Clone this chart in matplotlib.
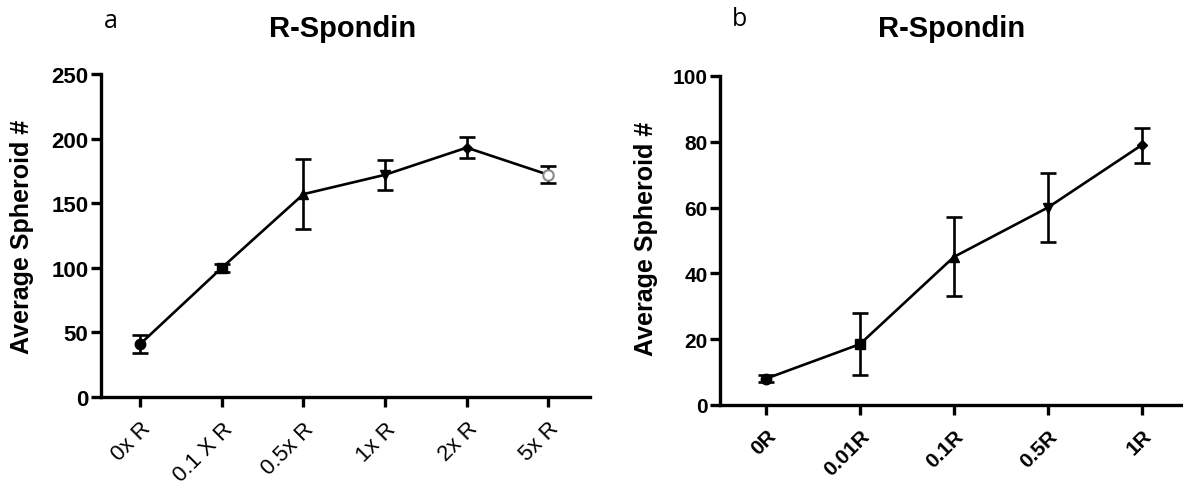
import matplotlib
matplotlib.use("Agg")
import matplotlib.pyplot as plt

# Panel a data
cats_a = ["0x R", "0.1 X R", "0.5x R", "1x R", "2x R", "5x R"]
mean_a = [41, 100, 157, 172, 193, 172]
err_a = [7, 3, 27, 11.5, 8, 6.5]
markers_a = ["o", "s", "^", "v", "D", "o"]

# Panel b data
cats_b = ["0R", "0.01R", "0.1R", "0.5R", "1R"]
mean_b = [8, 18.5, 45, 60, 79]
err_b = [1, 9.5, 12, 10.5, 5.3]
markers_b = ["o", "s", "^", "v", "D"]

title = "R-Spondin"
ylabel = "Average Spheroid #"

W, H = 1183, 485
fig = plt.figure(figsize=(W / 100, H / 100), dpi=100)
FONT = "Liberation Sans"


def px_axes(l, r, top, bottom):
    return fig.add_axes([l / W, 1 - bottom / H, (r - l) / W, (bottom - top) / H])


def style(ax, ylim, yticks, cats, ytick_fs, xtick_fs, xtick_weight, xlim):
    for s in ["top", "right"]:
        ax.spines[s].set_visible(False)
    for s in ["left", "bottom"]:
        ax.spines[s].set_linewidth(2.4)
    ax.set_ylim(*ylim)
    ax.set_xlim(*xlim)
    ax.set_yticks(yticks)
    ax.set_xticks(range(len(cats)))
    ax.set_xticklabels(cats, rotation=45, ha="right", rotation_mode="anchor")
    ax.tick_params(axis="both", width=2.4, length=7, direction="out")
    for lab in ax.get_yticklabels():
        lab.set_fontfamily(FONT)
        lab.set_fontweight("bold")
        lab.set_fontsize(ytick_fs)
    for lab in ax.get_xticklabels():
        lab.set_fontfamily(FONT)
        lab.set_fontweight(xtick_weight)
        lab.set_fontsize(xtick_fs)
    ax.tick_params(axis="x", pad=8)
    ax.tick_params(axis="y", pad=2)


def draw(ax, means, errs, markers, open_last=False):
    xs = list(range(len(means)))
    ax.plot(xs, means, color="black", lw=1.9, zorder=2)
    ax.errorbar(xs, means, yerr=errs, fmt="none", ecolor="black",
                elinewidth=1.9, capsize=5.5, capthick=1.9, zorder=3)
    for i, (x, y, m) in enumerate(zip(xs, means, markers)):
        if open_last and i == len(xs) - 1:
            ax.plot(x, y, marker=m, ms=7.5, mfc="white", mec="#888888", mew=1.5, zorder=4)
        else:
            ax.plot(x, y, marker=m, ms=7.5 if m != "D" else 5.5, color="black", zorder=4)


# Panel a
ax1 = px_axes(101, 590, 75, 398)
draw(ax1, mean_a, err_a, markers_a, open_last=True)
style(ax1, (0, 250), [0, 50, 100, 150, 200, 250], cats_a, 16, 16, "normal", (-0.48, 5.51))
ax1.text(22 / W, 1 - 237 / H, ylabel, transform=fig.transFigure, rotation=90,
         ha="center", va="center", fontsize=18, fontweight="bold", family=FONT)

# Panel b
ax2 = px_axes(720, 1183, 77, 406)
draw(ax2, mean_b, err_b, markers_b)
style(ax2, (0, 100), [0, 20, 40, 60, 80, 100], cats_b, 15, 15, "bold", (-0.49, 4.44))
ax2.text(646 / W, 1 - 239 / H, ylabel, transform=fig.transFigure, rotation=90,
         ha="center", va="center", fontsize=18, fontweight="bold", family=FONT)

# Titles
fig.text(343 / W, 1 - 29 / H, title, ha="center", va="center", fontsize=21,
         fontweight="bold", family=FONT)
fig.text(952 / W, 1 - 29 / H, title, ha="center", va="center", fontsize=21,
         fontweight="bold", family=FONT)

# Panel letters
fig.text(111 / W, 1 - 21 / H, "a", ha="center", va="center", fontsize=18, family="Open Sans")
fig.text(739 / W, 1 - 19 / H, "b", ha="center", va="center", fontsize=18, family="Open Sans")

fig.savefig("out.png", dpi=100)
